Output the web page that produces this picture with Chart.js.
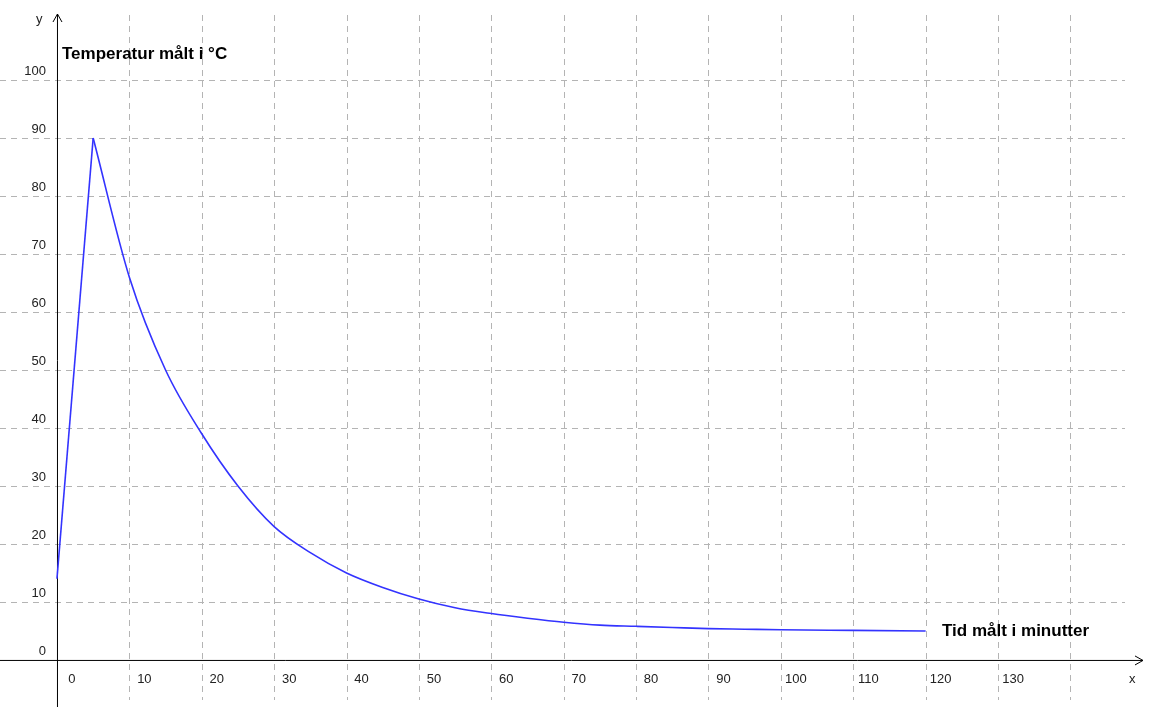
<!DOCTYPE html>
<html><head><meta charset="utf-8">
<script src="https://cdn.jsdelivr.net/npm/chart.js@4"></script>
<style>html,body{margin:0;padding:0;background:#fff}#w{width:1158px;height:722px}</style>
</head><body><div id="w"><canvas id="c"></canvas></div>
<script>
const timeMin = [0,5,10,15,20,25,30,35,40,45,50,55,60,65,70,75,80,85,90,95,100,110,120];
const tempC = [14,90,66,50,39,30,23,18.5,15,12.5,10.5,9,8,7.2,6.5,6,5.8,5.6,5.4,5.3,5.2,5.1,5];
const xTicks = [0,10,20,30,40,50,60,70,80,90,100,110,120,130];
const yTicks = [0,10,20,30,40,50,60,70,80,90,100];
const xGrid = [10,20,30,40,50,60,70,80,90,100,110,120,130,140];
const yTitle = "Temperatur målt i °C", xTitle = "Tid målt i minutter";

const axesPlugin = {
  id:'axes',
  beforeDatasetsDraw(ch){
    const c=ch.ctx,x=ch.scales.x,y=ch.scales.y;
    const x0=x.getPixelForValue(0), y0=y.getPixelForValue(0);
    c.save();
    c.strokeStyle='#b4b4b4';c.lineWidth=1;c.setLineDash([6,5]);
    xGrid.forEach(v=>{const p=Math.round(x.getPixelForValue(v))+0.5;c.beginPath();c.moveTo(p,15);c.lineTo(p,700);c.stroke();});
    yTicks.filter(v=>v>0).forEach(v=>{const p=Math.round(y.getPixelForValue(v))+0.5;c.beginPath();c.moveTo(0,p);c.lineTo(1125,p);c.stroke();});
    c.setLineDash([]);c.strokeStyle='#000';
    c.beginPath();c.moveTo(0,y0+0.5);c.lineTo(1143,y0+0.5);c.stroke();
    c.beginPath();c.moveTo(x0+0.5,707);c.lineTo(x0+0.5,14);c.stroke();
    c.beginPath();c.moveTo(1135,y0-4);c.lineTo(1143,y0+0.5);c.lineTo(1135,y0+5);c.stroke();
    c.beginPath();c.moveTo(x0-4,22);c.lineTo(x0+0.5,14);c.lineTo(x0+5,22);c.stroke();
    c.fillStyle='#222';c.font='13px "Liberation Sans", Arial';
    c.textAlign='center';c.textBaseline='middle';
    xTicks.forEach(v=>{c.fillText(String(v),x.getPixelForValue(v)+15,679);});
    c.textAlign='right';
    yTicks.forEach(v=>{c.fillText(String(v),46,y.getPixelForValue(v)-9);});
    c.textAlign='left';
    c.fillText('y',36,19);c.fillText('x',1129,679);
    c.fillStyle='#000';c.font='bold 17px "Liberation Sans Narrow", "Liberation Sans", Arial';
    c.fillText(yTitle,62,54);c.fillText(xTitle,942,631);
    c.restore();
  }
};
const pts = timeMin.map((t,i)=>({x:t,y:tempC[i]}));
new Chart(document.getElementById('c'),{
  type:'line',
  data:{datasets:[
    {data:pts.slice(0,2),borderColor:'#3333ff',borderWidth:1.6,pointRadius:0,tension:0,fill:false},
    {data:pts.slice(1),borderColor:'#3333ff',borderWidth:1.6,pointRadius:0,cubicInterpolationMode:'monotone',fill:false}
  ]},
  options:{responsive:true,maintainAspectRatio:false,animation:false,
    layout:{padding:0},
    plugins:{legend:{display:false},tooltip:{enabled:false}},
    scales:{
      x:{type:'linear',min:-7.87,max:152.1,display:false},
      y:{type:'linear',min:-10.7,max:113.8,display:false}
    }},
  plugins:[axesPlugin]
});
</script></body></html>
